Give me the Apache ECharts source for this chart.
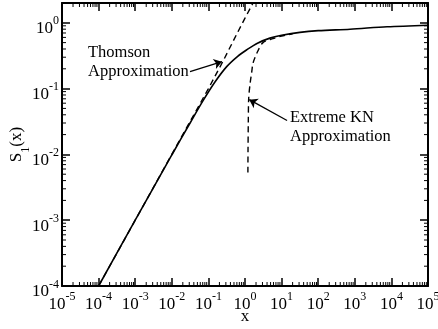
<!DOCTYPE html>
<html><head><meta charset="utf-8">
<script src="https://cdn.jsdelivr.net/npm/echarts@6/dist/echarts.min.js"></script>
<style>html,body{margin:0;padding:0;background:#fff}#c{width:438px;height:329px}</style>
</head><body><div id="c"></div>
<script>
// Axis ranges
const X_MIN = 1e-5, X_MAX = 1e5, Y_MIN = 1e-4, Y_MAX = 2;
// Minor tick mantissas (log axes)
const minorMantissas = [2, 3, 4, 5, 6, 7, 8, 9];
const xDecades = [-5, -4, -3, -2, -1, 0, 1, 2, 3, 4];
const yDecades = [-4, -3, -2, -1];

// Solid curve S1(x)
const solidX = [1e-4, 1e-3, 0.01, 0.0316, 0.0708, 0.151, 0.316, 0.631, 1.122, 2.188, 4.786, 10, 31.6, 100, 741, 7586, 1e5];
const solidY = [1e-4, 1e-3, 0.0098, 0.030, 0.065, 0.126, 0.216, 0.31, 0.39, 0.49, 0.585, 0.645, 0.716, 0.76, 0.80, 0.87, 0.92];

// Thomson approximation (dashed)
const thomsonX = [1e-4, 1e-3, 1e-2, 0.1, 0.25, 0.6, 1.0, 1.66];
const thomsonY = [1e-4, 1e-3, 1e-2, 0.1, 0.26, 0.68, 1.18, 2.0];

// Extreme KN approximation (dashed)
const knX = [1.2, 1.21, 1.23, 1.26, 1.38, 1.52, 1.66, 2.13, 3.1, 5.8, 10, 20];
const knY = [0.0053, 0.012, 0.03, 0.07, 0.12, 0.175, 0.245, 0.35, 0.5, 0.575, 0.63, 0.68];

// Annotation arrows [from, to] in data units
const thomsonArrow = [[0.0314, 0.181], [0.235, 0.257]];
const knArrow = [[14.1, 0.0327], [1.31, 0.068]];

const FONT = '"Liberation Serif", "Times New Roman", serif';

function zip(a, b) { return a.map((v, i) => [v, b[i]]); }

function powLabel(v) {
  const e = Math.round(Math.log10(v));
  if (Math.abs(v / Math.pow(10, e) - 1) > 1e-6) return '';
  return '{b|10}{s|' + e + '}';
}
const labelRich = {
  b: { fontFamily: FONT, fontSize: 17, lineHeight: 22, verticalAlign: 'bottom', color: '#000' },
  s: { fontFamily: FONT, fontSize: 12, lineHeight: 12, verticalAlign: 'top', color: '#000' }
};

const minorData = [];
xDecades.forEach(e => minorMantissas.forEach(m => minorData.push([m * Math.pow(10, e), Y_MIN, 0])));
yDecades.forEach(e => minorMantissas.forEach(m => minorData.push([X_MIN, m * Math.pow(10, e), 1])));

const tickStyle = { show: true, inside: true, length: 8, lineStyle: { color: '#000', width: 1.5 } };
const lineStyleAxis = { show: true, lineStyle: { color: '#000', width: 2 } };

const chart = echarts.init(document.getElementById('c'));
chart.setOption({
  animation: false,
  backgroundColor: '#fff',
  grid: { left: 62, right: 10, top: 3, bottom: 43, containLabel: false, outerBoundsMode: 'none' },
  xAxis: [
    {
      type: 'log', logBase: 10, min: X_MIN, max: X_MAX, interval: 1,
      axisLine: lineStyleAxis, axisTick: tickStyle, splitLine: { show: false },
      axisLabel: { formatter: powLabel, rich: labelRich, margin: 5, showMinLabel: true, showMaxLabel: true },
      name: 'x', nameLocation: 'middle', nameGap: 22, nameMoveOverlap: false,
      nameTextStyle: { fontFamily: FONT, fontSize: 17, color: '#000' }
    },
    {
      type: 'log', logBase: 10, min: X_MIN, max: X_MAX, interval: 1, position: 'top',
      axisLine: lineStyleAxis, axisTick: tickStyle, splitLine: { show: false },
      axisLabel: { show: false }
    }
  ],
  yAxis: [
    {
      type: 'log', logBase: 10, min: Y_MIN, max: Y_MAX, interval: 1,
      axisLine: lineStyleAxis, axisTick: tickStyle, splitLine: { show: false },
      axisLabel: { formatter: powLabel, rich: labelRich, margin: 3, padding: [7, 0, 0, 0], showMinLabel: true, showMaxLabel: true },
      name: '{n|S}{u|1}{n|(x)}', nameLocation: 'middle', nameGap: 30, nameRotate: 90, nameMoveOverlap: false,
      nameTextStyle: {
        rich: {
          n: { fontFamily: FONT, fontSize: 17, lineHeight: 24, verticalAlign: 'top', color: '#000' },
          u: { fontFamily: FONT, fontSize: 12, lineHeight: 10, verticalAlign: 'bottom', color: '#000' }
        }
      }
    },
    {
      type: 'log', logBase: 10, min: Y_MIN, max: Y_MAX, interval: 1, position: 'right',
      axisLine: lineStyleAxis, axisTick: tickStyle, splitLine: { show: false },
      axisLabel: { show: false }
    }
  ],
  graphic: [
    { type: 'text', left: 88, top: 43, style: { text: 'Thomson\nApproximation', fontFamily: FONT, fontSize: 16.5, lineHeight: 19, fill: '#000' } },
    { type: 'text', left: 290, top: 108, style: { text: 'Extreme KN\nApproximation', fontFamily: FONT, fontSize: 16.5, lineHeight: 19, fill: '#000' } }
  ],
  series: [
    {
      type: 'line', data: zip(thomsonX, thomsonY), showSymbol: false, symbol: 'none',
      lineStyle: { color: '#000', width: 1.4, type: [6, 4] }, z: 2
    },
    {
      type: 'line', data: zip(knX, knY), showSymbol: false, symbol: 'none', smooth: 0.3,
      lineStyle: { color: '#000', width: 1.4, type: [6, 4] }, z: 2
    },
    {
      type: 'line', data: zip(solidX, solidY), showSymbol: false, symbol: 'none', smooth: 0.3,
      lineStyle: { color: '#000', width: 1.6 }, z: 3,
      markLine: {
        silent: true, symbol: ['none', 'arrow'], symbolSize: 8, label: { show: false },
        lineStyle: { color: '#000', width: 1.3, type: 'solid' },
        data: [
          [{ coord: thomsonArrow[0] }, { coord: thomsonArrow[1] }],
          [{ coord: knArrow[0] }, { coord: knArrow[1] }]
        ]
      }
    },
    {
      type: 'custom', data: minorData, encode: { x: 0, y: 1 }, clip: false, z: 5, silent: true,
      renderItem: function (params, api) {
        const v0 = api.value(0), v1 = api.value(1), kind = api.value(2);
        const L = 4;
        const st = { stroke: '#000', lineWidth: 1 };
        if (kind === 0) {
          const p0 = api.coord([v0, Y_MIN]), p1 = api.coord([v0, Y_MAX]);
          return { type: 'group', children: [
            { type: 'line', shape: { x1: p0[0], y1: p0[1], x2: p0[0], y2: p0[1] - L }, style: st },
            { type: 'line', shape: { x1: p1[0], y1: p1[1], x2: p1[0], y2: p1[1] + L }, style: st }
          ] };
        } else {
          const p0 = api.coord([X_MIN, v1]), p1 = api.coord([X_MAX, v1]);
          return { type: 'group', children: [
            { type: 'line', shape: { x1: p0[0], y1: p0[1], x2: p0[0] + L, y2: p0[1] }, style: st },
            { type: 'line', shape: { x1: p1[0], y1: p1[1], x2: p1[0] - L, y2: p1[1] }, style: st }
          ] };
        }
      }
    }
  ]
});
</script>
</body></html>
